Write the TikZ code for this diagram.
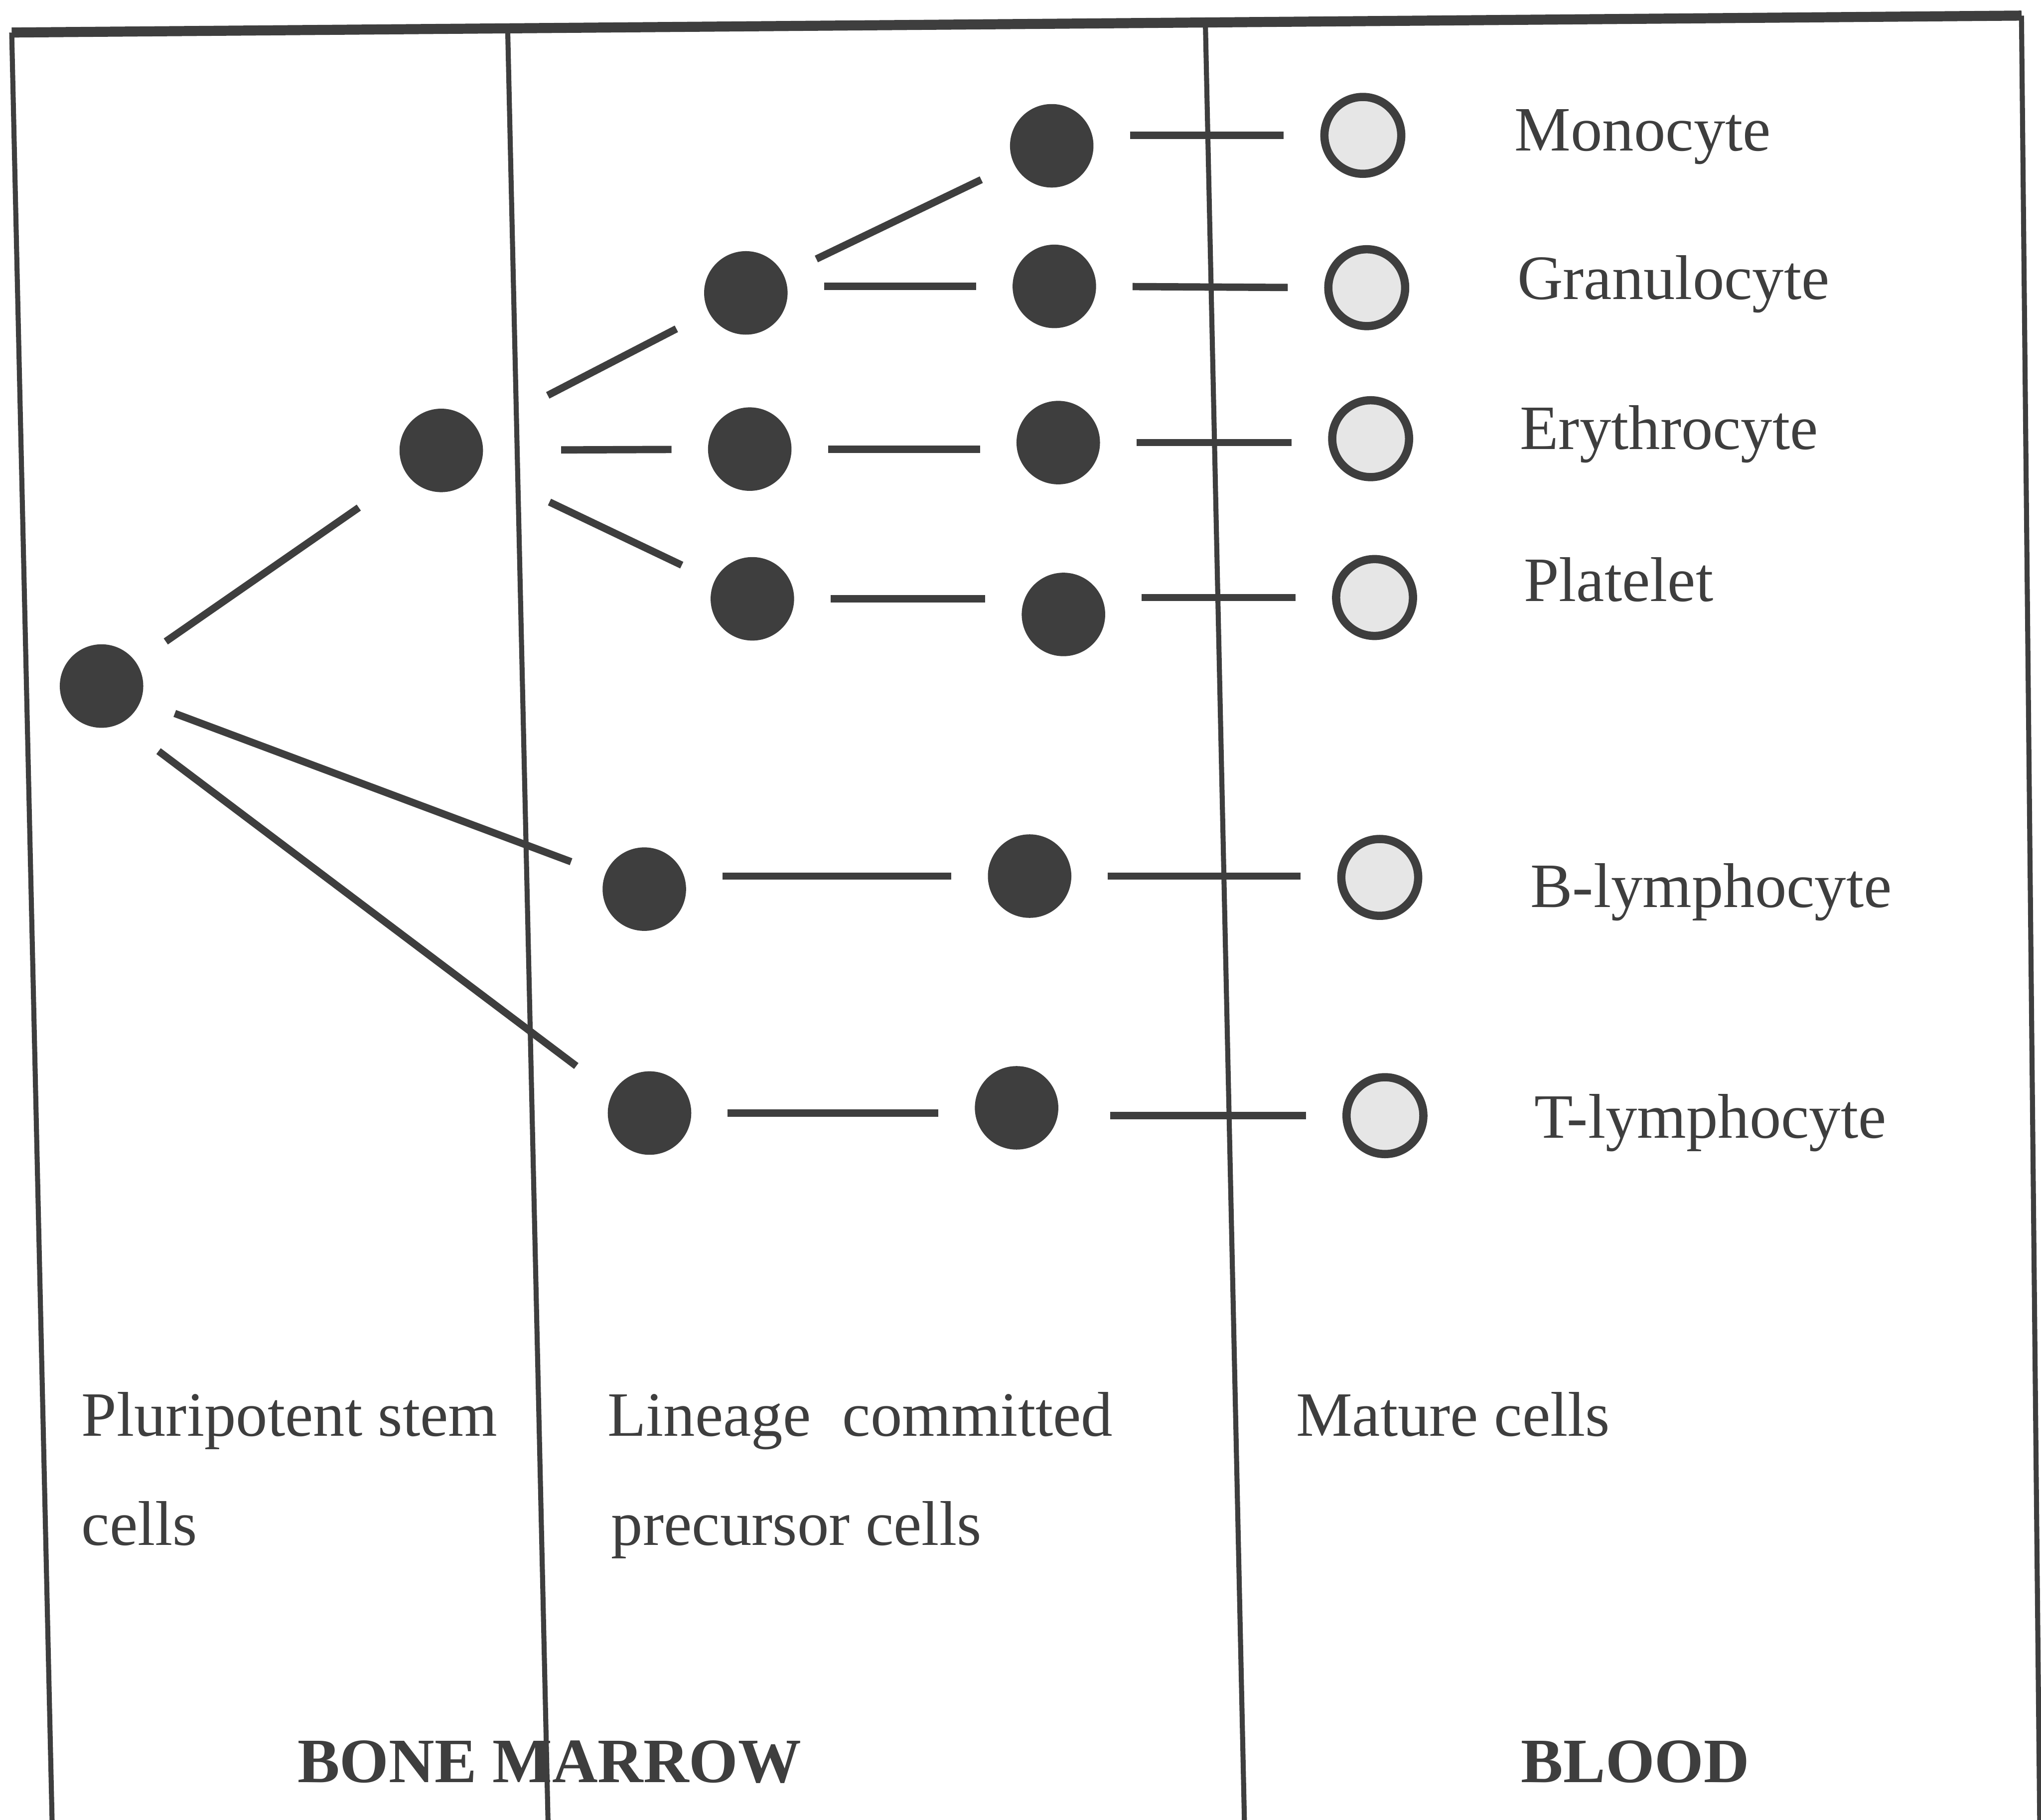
\documentclass[tikz,border=0pt]{standalone}
\usepackage{fontspec}
\setmainfont{Liberation Serif}
\usepackage{tikz}
\usetikzlibrary{positioning}
\definecolor{inkgray}{RGB}{62,62,62}
\definecolor{palecell}{RGB}{230,230,230}

\begin{document}
\begin{tikzpicture}[x=0.01cm, y=-0.01cm,
  precursor/.style={circle, fill=inkgray, draw=inkgray, line width=0.6pt, minimum size=0.62cm, inner sep=0pt},
  mature/.style={circle, fill=palecell, draw=inkgray, line width=1.8pt, minimum size=0.59cm, inner sep=0pt},
  celltxt/.style={anchor=base west, inner sep=0pt, text=inkgray, font=\fontsize{13.8}{16}\selectfont},
  headtxt/.style={celltxt, font=\fontsize{13.8}{16}\selectfont\bfseries},
  link/.style={draw=inkgray, line width=1.6pt, shorten <=0.28cm, shorten >=0.28cm},
  boxline/.style={draw=inkgray, line width=1.1pt}
]
\useasboundingbox (0,0) rectangle (1568,1398);
% frame and columns
\draw[boxline, line width=2.2pt] (9,25) -- (1553,12);
\draw[boxline] (9,25) -- (40,1398);
\draw[boxline] (390,21) -- (421,1398);
\draw[boxline] (926,16) -- (956,1398);
\draw[boxline] (1553,12) -- (1567,1398);

% cells
\node[precursor] (stem) at (78,527) {};
\node[precursor] (myelo) at (339,346) {};
\node[precursor] (pgran) at (573,225) {};
\node[precursor] (pery) at (576,345) {};
\node[precursor] (pplt) at (578,460) {};
\node[precursor] (pb) at (495,683) {};
\node[precursor] (pt) at (499,855) {};
\node[precursor] (qmono) at (808,112) {};
\node[precursor] (qgran) at (810,220) {};
\node[precursor] (qery) at (813,340) {};
\node[precursor] (qplt) at (817,472) {};
\node[precursor] (qb) at (791,673) {};
\node[precursor] (qt) at (781,851) {};
\node[mature] (mono) at (1047,104) {};
\node[mature] (gran) at (1050,221) {};
\node[mature] (ery) at (1053,337) {};
\node[mature] (plt) at (1056,459) {};
\node[mature] (bly) at (1060,674) {};
\node[mature] (tly) at (1064,857) {};

% cell names
\node[celltxt] (lmono) at (1163,116) {Monocyte};
\node[celltxt] (lgran) at (1165,230) {Granulocyte};
\node[celltxt] (lery) at (1167,345) {Erythrocyte};
\node[celltxt] (lplt) at (1170,462) {Platelet};
\node[celltxt] (lbly) at (1175,697) {B-lymphocyte};
\node[celltxt] (ltly) at (1178,874) {T-lymphocyte};

% column captions
\node[celltxt] (cap1a) at (62,1103) {Pluripotent stem};
\node[celltxt] (cap1b) at (62,1187) {cells};
\node[celltxt] (cap2a) at (466,1103) {Lineage\ \ committed};
\node[celltxt] (cap2b) at (469,1187) {precursor cells};
\node[celltxt] (cap3) at (995,1103) {Mature cells};
\node[headtxt] (marrow) at (228,1369) {BONE MARROW};
\node[headtxt] (blood) at (1168,1369) {BLOOD};

% lineages
\draw[link, shorten >=0.45cm] (stem) -- (myelo);
\draw[link] (stem) -- (pb);
\draw[link, shorten <=0.36cm, shorten >=0.35cm] (stem.-62) -- (pt.152);
\draw[link, shorten <=0.6cm] (myelo) -- (pgran);
\draw[link, shorten <=0.6cm] (myelo) -- (pery);
\draw[link, shorten <=0.6cm] (myelo) -- (pplt);
\draw[link] (pgran) -- (qmono);
\draw[link] (pgran.east |- qgran) -- (qgran.west);
\draw[link] (pery.east) -- (qery.west |- pery);
\draw[link] (pplt.east) -- (qplt.west |- pplt);
\draw[link] (pb.east |- qb) -- (qb.west);
\draw[link] (pt.east) -- (qt.west |- pt);
\draw[link] (qmono.east |- mono) -- (mono.west);
\draw[link] (qgran.east) -- (gran.west);
\draw[link] (qery.east) -- (ery.west |- qery);
\draw[link] (qplt.east |- plt) -- (plt.west);
\draw[link] (qb.east) -- (bly.west |- qb);
\draw[link, shorten <=0.4cm] (qt.east |- tly) -- (tly.west);
\end{tikzpicture}
\end{document}
